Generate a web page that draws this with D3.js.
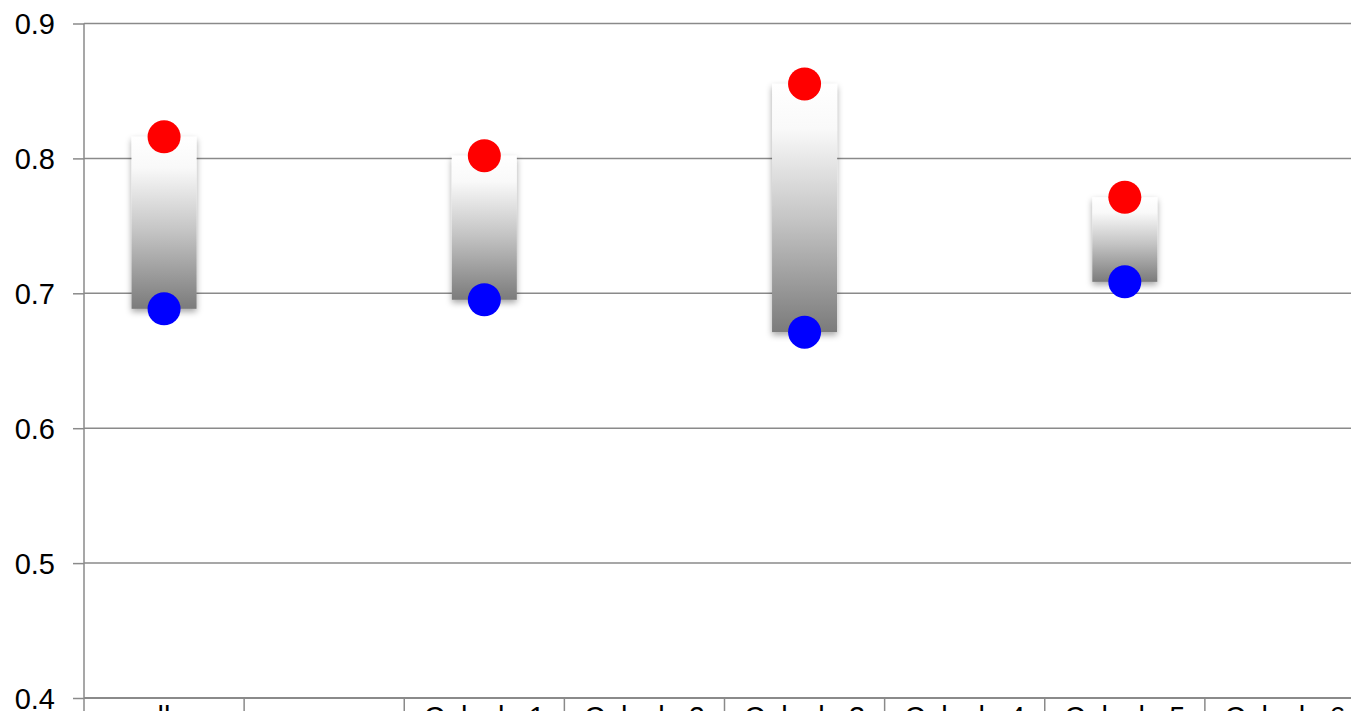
<!DOCTYPE html>
<html>
<head>
<meta charset="utf-8">
<script src="https://cdn.jsdelivr.net/npm/d3@7/dist/d3.min.js"></script>
<style>
  html, body { margin: 0; padding: 0; background: #fff; overflow: hidden; }
  svg { display: block; }
  text { font-family: "Liberation Sans", Arial, sans-serif; }
</style>
</head>
<body>
<svg id="chart" width="1400" height="760"></svg>
<script>
// ---- data ----
const categories = ["ella", "", "Calculo 1", "Calculo 2", "Calculo 3", "Calculo 4", "Calculo 5", "Calculo 6"];
const highValues = [0.8160, null, 0.8020, null, 0.8552, null, 0.7712, null];
const lowValues  = [0.6885, null, 0.6952, null, 0.6712, null, 0.7085, null];
const yTicks = [0.4, 0.5, 0.6, 0.7, 0.8, 0.9];
const yTickLabels = ["0.4", "0.5", "0.6", "0.7", "0.8", "0.9"];

// ---- layout ----
const margin = { left: 84, top: 23.5 };
const plotW = 1281, plotH = 674.5;
const gridColor = "#8a8a8a";

const svg = d3.select("#chart");
const defs = svg.append("defs");

const grad = defs.append("linearGradient")
  .attr("id", "barGrad").attr("x1", 0).attr("y1", 0).attr("x2", 0).attr("y2", 1);
[[0, "#ffffff"], [0.18, "#f9f9f9"], [0.55, "#c4c4c4"], [1, "#7b7b7b"]].forEach(([o, c]) =>
  grad.append("stop").attr("offset", o).attr("stop-color", c));

const shadow = defs.append("filter").attr("id", "shadow")
  .attr("x", "-20%").attr("y", "-20%").attr("width", "140%").attr("height", "140%");
shadow.append("feDropShadow").attr("dx", 0).attr("dy", 3).attr("stdDeviation", 3)
  .attr("flood-color", "#000").attr("flood-opacity", 0.35);

const x = d3.scaleBand().domain(categories.map((c, i) => i)).range([0, plotW]).padding(0);
const y = d3.scaleLinear().domain([0.4, 0.9]).range([plotH, 0]);

const g = svg.append("g").attr("transform", `translate(${margin.left},${margin.top})`);

// gridlines
g.append("g").selectAll("line").data(yTicks.filter(t => t > 0.4)).join("line")
  .attr("x1", 0).attr("x2", plotW)
  .attr("y1", d => y(d)).attr("y2", d => y(d))
  .attr("stroke", gridColor).attr("stroke-width", 1.5);

// y axis
const yAxis = d3.axisLeft(y).tickValues(yTicks)
  .tickFormat((d, i) => yTickLabels[i]).tickSize(11).tickPadding(18);
const yg = g.append("g").call(yAxis);
yg.select(".domain").remove();
yg.selectAll(".tick line").attr("stroke", gridColor).attr("stroke-width", 1.5);
yg.selectAll(".tick text").attr("font-size", 29).attr("fill", "#000")
  .attr("font-family", "'Liberation Sans', Arial, sans-serif").attr("dy", "0.35em");
g.append("line").attr("x1", 0).attr("x2", 0).attr("y1", 0).attr("y2", plotH + 16)
  .attr("stroke", gridColor).attr("stroke-width", 1.5);

// x axis (labels sit just below the visible frame, as in the reference)
const xAxis = d3.axisBottom(x).tickFormat(i => categories[i]).tickSize(0).tickPadding(29);
const xg = g.append("g").attr("transform", `translate(0,${plotH})`).call(xAxis);
xg.select(".domain").remove();
xg.selectAll(".tick text").attr("font-size", 29).attr("fill", "#000")
  .attr("font-family", "'Liberation Sans', Arial, sans-serif").attr("dy", "0");
g.append("line").attr("x1", 0).attr("x2", plotW).attr("y1", plotH).attr("y2", plotH)
  .attr("stroke", gridColor).attr("stroke-width", 2);
// category separator ticks
g.append("g").selectAll("line").data(d3.range(1, categories.length + 1)).join("line")
  .attr("x1", i => i * x.bandwidth()).attr("x2", i => i * x.bandwidth())
  .attr("y1", plotH).attr("y2", plotH + 16)
  .attr("stroke", gridColor).attr("stroke-width", 1.5);

// high-low bars
const barW = x.bandwidth() * 0.406;
const idx = categories.map((c, i) => i).filter(i => highValues[i] != null);
g.append("g").selectAll("rect").data(idx).join("rect")
  .attr("x", i => x(i) + x.bandwidth() / 2 - barW / 2)
  .attr("width", barW)
  .attr("y", i => y(highValues[i]))
  .attr("height", i => y(lowValues[i]) - y(highValues[i]))
  .attr("fill", "url(#barGrad)")
  .attr("filter", "url(#shadow)");

// points
g.append("g").selectAll("circle").data(idx).join("circle")
  .attr("cx", i => x(i) + x.bandwidth() / 2)
  .attr("cy", i => y(highValues[i]))
  .attr("r", 16.5).attr("fill", "#ff0000");
g.append("g").selectAll("circle").data(idx).join("circle")
  .attr("cx", i => x(i) + x.bandwidth() / 2)
  .attr("cy", i => y(lowValues[i]))
  .attr("r", 16.5).attr("fill", "#0000ff");
</script>
</body>
</html>
